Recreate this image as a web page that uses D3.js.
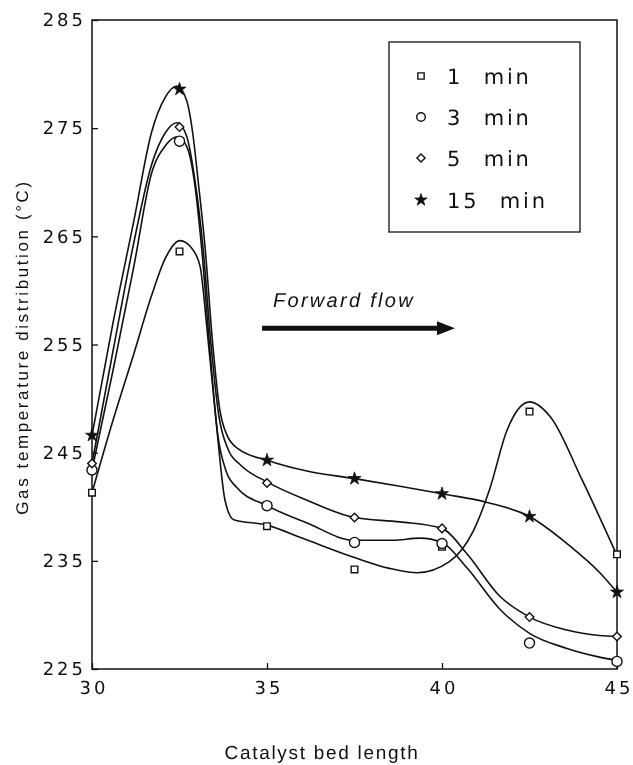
<!DOCTYPE html>
<html>
<head>
<meta charset="utf-8">
<script src="https://cdn.jsdelivr.net/npm/d3@7"></script>
<style>
  html, body { margin: 0; padding: 0; background: #fff; }
  svg { display: block; will-change: transform; }
  text { text-rendering: geometricPrecision; }
</style>
</head>
<body>
<script>
// Axis ticks
const xTicks = [30, 35, 40, 45];
const yTicks = [225, 235, 245, 255, 265, 275, 285];

// Measurement positions along the catalyst bed
const positions = [30, 32.5, 35, 37.5, 40, 42.5, 45];

// Measured gas temperatures (°C) after each time on stream
const temp1min  = [241.3, 263.6, 238.2, 234.2, 236.3, 248.8, 235.6];
const temp3min  = [243.4, 273.8, 240.1, 236.7, 236.6, 227.4, 225.7];
const temp5min  = [244.0, 275.1, 242.2, 239.0, 238.0, 229.8, 228.0];
const temp15min = [246.6, 278.6, 244.3, 242.6, 241.2, 239.1, 232.1];

// Hand-drawn smoothing curves through each series: [bed length, temperature]
const fit1min = [
  [30, 241.3], [30.6, 248.0], [31.2, 254.2], [31.7, 259.5], [32.1, 263.0],
  [32.51, 264.6], [32.85, 263.9], [33.09, 262.2], [33.29, 256.3], [33.57, 247.1],
  [33.8, 240.6], [34.05, 238.8], [35, 238.3], [36, 237.1], [37.5, 235.3],
  [38.5, 234.3], [39.3, 233.9], [40.2, 234.9], [40.9, 237.8], [41.35, 241.5],
  [41.86, 247.1], [42.5, 249.7], [43.1, 248.3], [44.0, 242.5], [45, 235.5]
];
const fit3min = [
  [30, 243.4], [30.6, 252.6], [31.2, 262.3], [31.7, 270.8], [32.1, 273.4],
  [32.45, 274.2], [32.72, 273.2], [32.92, 270.2], [33.13, 264], [33.38, 254],
  [33.6, 246.5], [33.82, 243.4], [34.13, 241.8], [35, 240.1], [36.14, 238.5],
  [37.5, 236.9], [38.6, 236.9], [39.37, 237.1], [40, 236.7], [40.7, 234.4],
  [41.66, 230.5], [42.5, 228.3], [43.57, 226.9], [44.5, 226.1], [45, 225.8]
];
const fit5min = [
  [30, 244.0], [30.6, 254.4], [31.2, 264.5], [31.7, 271.6], [32.1, 274.6],
  [32.43, 275.5], [32.7, 274.3], [32.94, 270.2], [33.17, 264], [33.4, 255],
  [33.62, 248.5], [33.89, 245.3], [34.23, 243.9], [35, 242.3], [36.14, 240.6],
  [37.5, 239.0], [38.8, 238.6], [40, 238.0], [40.7, 235.7], [41.66, 231.7],
  [42.5, 229.8], [43.57, 228.6], [44.5, 228.1], [45, 228.0]
];
const fit15min = [
  [30, 246.6], [30.6, 257.0], [31.2, 266.5], [31.7, 274.6], [32.1, 277.9],
  [32.43, 278.9], [32.7, 277.6], [32.9, 274.0], [33.03, 270.2], [33.23, 264],
  [33.45, 255], [33.65, 249], [33.86, 246.6], [34.2, 245.3], [35, 244.3],
  [36.14, 243.3], [37.5, 242.6], [38.8, 241.9], [40, 241.2], [41.29, 240.4],
  [42.5, 239.1], [43.57, 236.6], [44.51, 233.9], [45, 232.1]
];

const seriesNames = ["1 min", "3 min", "5 min", "15 min"];
const seriesSymbols = ["square", "circle", "diamond", "star"];

const series = [
  { name: seriesNames[0], symbol: seriesSymbols[0], values: temp1min,  fit: fit1min },
  { name: seriesNames[1], symbol: seriesSymbols[1], values: temp3min,  fit: fit3min },
  { name: seriesNames[2], symbol: seriesSymbols[2], values: temp5min,  fit: fit5min },
  { name: seriesNames[3], symbol: seriesSymbols[3], values: temp15min, fit: fit15min }
];

const W = 633, H = 765;
const svg = d3.select("body").append("svg").attr("width", W).attr("height", H);

const x = d3.scaleLinear().domain([30, 45]).range([92, 617]);
const y = d3.scaleLinear().domain([225, 285]).range([669, 20]);

const ink = "#111";
const tickFont = "'DejaVu Sans', sans-serif";
const labelFont = "'Liberation Sans', Arial, sans-serif";

// Marker shapes
function symbolPath(kind, scale) {
  const s = scale || 1;
  if (kind === "square") return d3.symbol(d3.symbolSquare, 44 * s * s)();
  if (kind === "circle") return d3.symbol(d3.symbolCircle, 80 * s * s)();
  if (kind === "star") return d3.symbol(d3.symbolStar, 52 * s * s)();
  // diamond: a square turned on its corner
  const r = 4.3 * s;
  return `M0,${-r}L${r},0L0,${r}L${-r},0Z`;
}
function drawMarker(g, kind, scale) {
  g.append("path")
    .attr("d", symbolPath(kind, scale))
    .attr("fill", kind === "star" ? ink : "#fff")
    .attr("stroke", ink)
    .attr("stroke-width", kind === "star" ? 0.8 : 1.4);
}

// Y axis
const gy = svg.append("g")
  .attr("transform", `translate(${x(30)},0)`)
  .call(d3.axisLeft(y).tickValues(yTicks).tickSize(-6).tickPadding(6).tickFormat(d3.format("d")));
gy.select(".domain").remove();
gy.selectAll(".tick line").attr("stroke", ink).attr("stroke-width", 1.3);
gy.selectAll(".tick text")
  .attr("fill", ink)
  .style("font-family", tickFont)
  .style("font-size", "18px")
  .style("letter-spacing", "3px");

// X axis
const gx = svg.append("g")
  .attr("transform", `translate(0,${y(225)})`)
  .call(d3.axisBottom(x).tickValues(xTicks).tickSize(-6).tickPadding(12).tickFormat(d3.format("d")));
gx.select(".domain").remove();
gx.selectAll(".tick line").attr("stroke", ink).attr("stroke-width", 1.3);
gx.selectAll(".tick text")
  .attr("fill", ink)
  .attr("dx", "1.5px")
  .style("font-family", tickFont)
  .style("font-size", "18px")
  .style("letter-spacing", "3px");

// Plot frame
svg.append("rect")
  .attr("x", x(30)).attr("y", y(285))
  .attr("width", x(45) - x(30)).attr("height", y(225) - y(285))
  .attr("fill", "none").attr("stroke", ink).attr("stroke-width", 1.5);

// Smoothed curves
const line = d3.line()
  .x(d => x(d[0]))
  .y(d => y(d[1]))
  .curve(d3.curveMonotoneX);

svg.append("g").selectAll("path")
  .data(series)
  .join("path")
  .attr("d", d => line(d.fit))
  .attr("fill", "none")
  .attr("stroke", ink)
  .attr("stroke-width", 1.6);

// Measured points
series.forEach(s => {
  const g = svg.append("g");
  positions.forEach((p, i) => {
    const m = g.append("g").attr("transform", `translate(${x(p)},${y(s.values[i])})`);
    drawMarker(m, s.symbol, 1);
  });
});

// Legend
const legend = svg.append("g");
legend.append("rect")
  .attr("x", 389).attr("y", 42).attr("width", 191).attr("height", 190)
  .attr("fill", "#fff").attr("stroke", ink).attr("stroke-width", 1.3);
const rowY = [76, 117, 158, 200];
series.forEach((s, i) => {
  const m = legend.append("g").attr("transform", `translate(421,${rowY[i]})`);
  drawMarker(m, s.symbol, s.symbol === "circle" ? 0.85 : 0.95);
  legend.append("text")
    .attr("x", 447).attr("y", rowY[i])
    .attr("dy", "0.36em")
    .attr("fill", ink)
    .style("font-family", tickFont)
    .style("font-size", "21px")
    .style("letter-spacing", "2.8px")
    .style("word-spacing", "11px")
    .text(s.name);
});

// Flow direction annotation
svg.append("text")
  .attr("x", x(35.17)).attr("y", y(258.46))
  .attr("fill", ink)
  .style("font-family", labelFont)
  .style("font-style", "italic")
  .style("font-size", "20px")
  .style("letter-spacing", "2.3px")
  .text("Forward flow");

const ax0 = x(34.86), ax1 = x(40.37), ay = y(256.5);
svg.append("line")
  .attr("x1", ax0).attr("x2", ax1 - 14)
  .attr("y1", ay).attr("y2", ay)
  .attr("stroke", ink).attr("stroke-width", 5);
svg.append("path")
  .attr("d", `M${ax1},${ay}L${ax1 - 18},${ay - 7}L${ax1 - 18},${ay + 7}Z`)
  .attr("fill", ink);

// Axis titles
svg.append("text")
  .attr("x", 322).attr("y", 759)
  .attr("text-anchor", "middle")
  .attr("fill", ink)
  .style("font-family", labelFont)
  .style("font-size", "19px")
  .style("letter-spacing", "1.7px")
  .text("Catalyst bed length");

svg.append("g")
  .attr("transform", `translate(28,347) rotate(-90)`)
  .append("text")
  .attr("text-anchor", "middle")
  .attr("fill", ink)
  .style("font-family", labelFont)
  .style("font-size", "17px")
  .style("letter-spacing", "2.6px")
  .text("Gas temperature distribution (\u00B0C)");
</script>
</body>
</html>
